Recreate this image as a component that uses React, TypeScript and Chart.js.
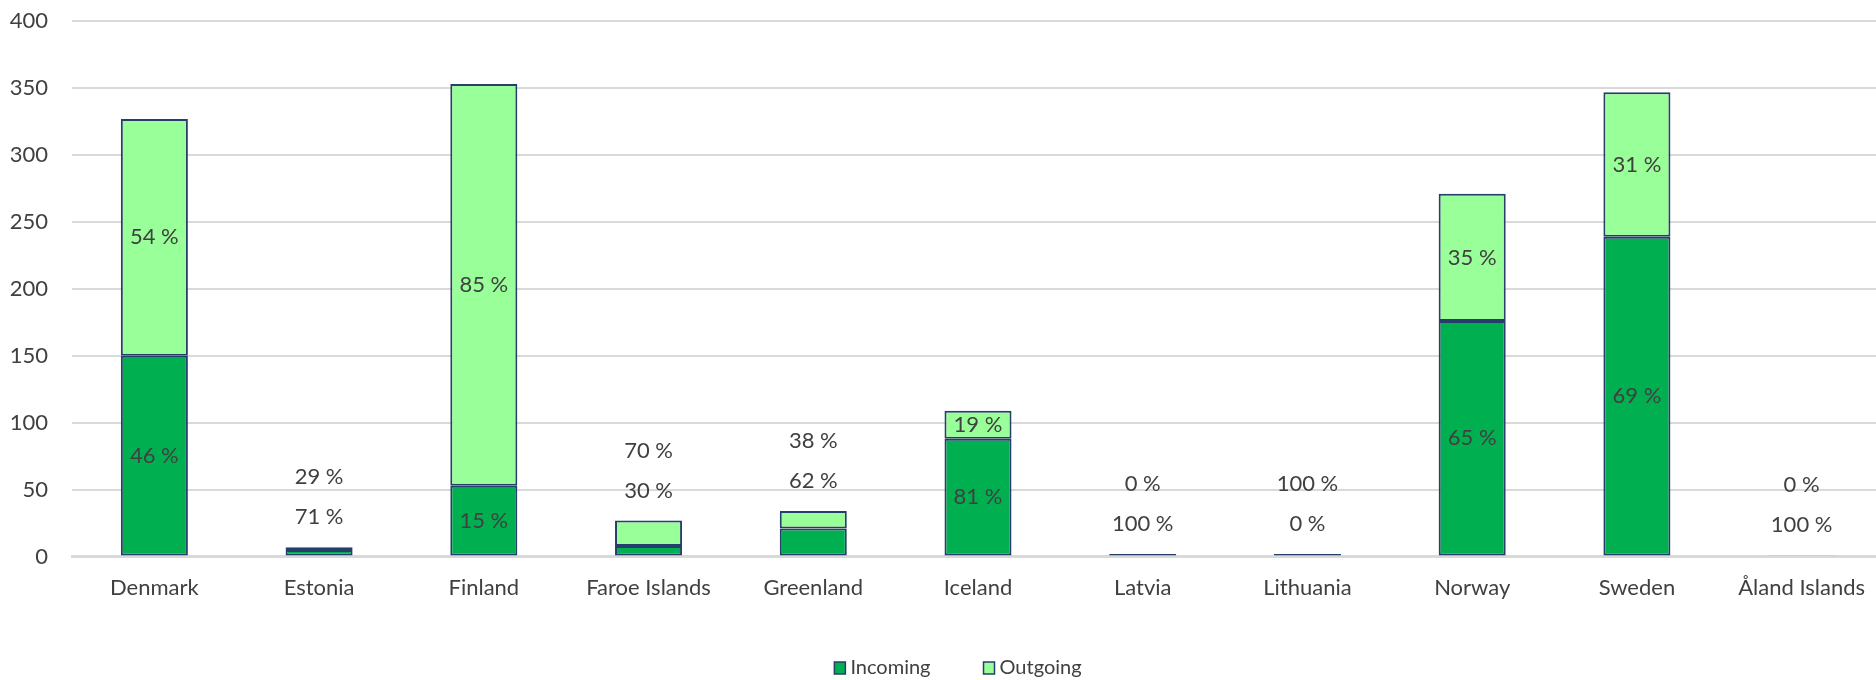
import React, { useEffect, useRef } from "react";
import { Chart, registerables } from "chart.js";

Chart.register(...registerables);

const categories = [
  "Denmark",
  "Estonia",
  "Finland",
  "Faroe Islands",
  "Greenland",
  "Iceland",
  "Latvia",
  "Lithuania",
  "Norway",
  "Sweden",
  "Åland Islands",
];
const incoming = [150, 5, 53, 8, 21, 88, 2, 0, 176, 239, 1];
const outgoing = [177, 2, 300, 19, 13, 21, 0, 2, 95, 108, 0];
const seriesNames = ["Incoming", "Outgoing"];
const seriesColors = ["#00B050", "#99FF99"];
const yMin = 0;
const yMax = 400;
const yStep = 50;

const FONT = "Lato, 'Open Sans', sans-serif";
const TEXT = "#404040";
const BORDER = "#263F6A";

const pct = (v: number, t: number) => (t ? Math.round((v / t) * 100) : 0);

const labelPlugin = {
  id: "pctLabels",
  afterDatasetsDraw(chart: any) {
    const ctx = chart.ctx;
    const m0 = chart.getDatasetMeta(0);
    const m1 = chart.getDatasetMeta(1);
    ctx.save();
    ctx.font = `22px ${FONT}`;
    ctx.fillStyle = TEXT;
    ctx.textAlign = "center";
    ctx.textBaseline = "middle";
    categories.forEach((_, i) => {
      const total = incoming[i] + outgoing[i];
      const tIn = `${pct(incoming[i], total)} %`;
      const tOut = `${pct(outgoing[i], total)} %`;
      const b0 = m0.data[i];
      const b1 = m1.data[i];
      const h0 = b0.base - b0.y;
      const h1 = b1.base - b1.y;
      if (h0 >= 24 && h1 >= 24) {
        ctx.fillText(tIn, b0.x, (b0.y + b0.base) / 2);
        ctx.fillText(tOut, b1.x, (b1.y + b1.base) / 2);
      } else {
        const top = Math.min(b0.y, b1.y);
        ctx.fillText(tIn, b0.x, top - 30);
        ctx.fillText(tOut, b0.x, top - 70);
      }
    });
    ctx.restore();
  },
};

const legendPlugin = {
  id: "customLegend",
  afterDraw(chart: any) {
    const ctx = chart.ctx;
    ctx.save();
    ctx.font = `20px ${FONT}`;
    ctx.textBaseline = "middle";
    ctx.textAlign = "left";
    const boxW = 11;
    const boxH = 12;
    const gapBoxText = 5;
    const gapItems = 53;
    const widths = seriesNames.map((n) => boxW + gapBoxText + ctx.measureText(n).width);
    const total = widths.reduce((a, b) => a + b, 0) + gapItems * (widths.length - 1);
    const cx = 958;
    const cy = 668;
    let x = cx - total / 2;
    seriesNames.forEach((n, i) => {
      ctx.fillStyle = seriesColors[i];
      ctx.fillRect(x, cy - boxH / 2, boxW, boxH);
      ctx.strokeStyle = BORDER;
      ctx.lineWidth = 1.5;
      ctx.strokeRect(x, cy - boxH / 2, boxW, boxH);
      ctx.fillStyle = TEXT;
      ctx.fillText(n, x + boxW + gapBoxText, cy);
      x += widths[i] + gapItems;
    });
    ctx.restore();
  },
};

export default function App() {
  const ref = useRef<HTMLCanvasElement | null>(null);
  useEffect(() => {
    if (!ref.current) return;
    const chart = new Chart(ref.current, {
      type: "bar",
      data: {
        labels: categories,
        datasets: [
          {
            label: seriesNames[0],
            data: incoming,
            backgroundColor: seriesColors[0],
            borderColor: BORDER,
            borderWidth: 2,
            borderSkipped: false,
            barPercentage: 0.407,
            categoryPercentage: 1,
          },
          {
            label: seriesNames[1],
            data: outgoing,
            backgroundColor: seriesColors[1],
            borderColor: BORDER,
            borderWidth: 2,
            borderSkipped: false,
            barPercentage: 0.407,
            categoryPercentage: 1,
          },
        ],
      },
      options: {
        animation: false,
        responsive: true,
        maintainAspectRatio: false,
        layout: { padding: { left: 0, right: 0, top: 0, bottom: 61 } },
        plugins: {
          legend: { display: false },
          tooltip: { enabled: false },
          title: { display: false },
        },
        scales: {
          x: {
            stacked: true,
            grid: { display: false, drawTicks: false },
            border: { display: true, color: "#D9D9D9", width: 3 },
            ticks: {
              color: TEXT,
              font: { family: FONT, size: 22 },
              padding: 18,
              maxRotation: 0,
              autoSkip: false,
            },
          },
          y: {
            stacked: true,
            min: yMin,
            max: yMax,
            afterFit: (scale: any) => {
              scale.width = 72;
            },
            grid: {
              color: "#D9D9D9",
              lineWidth: 2,
              drawTicks: true,
              tickLength: 16,
              tickColor: "rgba(0,0,0,0)",
            },
            border: { display: false },
            ticks: {
              stepSize: yStep,
              color: TEXT,
              font: { family: FONT, size: 22 },
              padding: 8,
            },
          },
        },
      },
      plugins: [labelPlugin, legendPlugin],
    });
    return () => chart.destroy();
  }, []);

  return (
    <div
      style={{
        position: "fixed",
        left: 0,
        top: 0,
        width: "1876px",
        height: "680px",
        overflow: "hidden",
        background: "#fff",
      }}
    >
      <div style={{ position: "relative", width: "1884px", height: "680px" }}>
        <canvas ref={ref} />
      </div>
    </div>
  );
}
